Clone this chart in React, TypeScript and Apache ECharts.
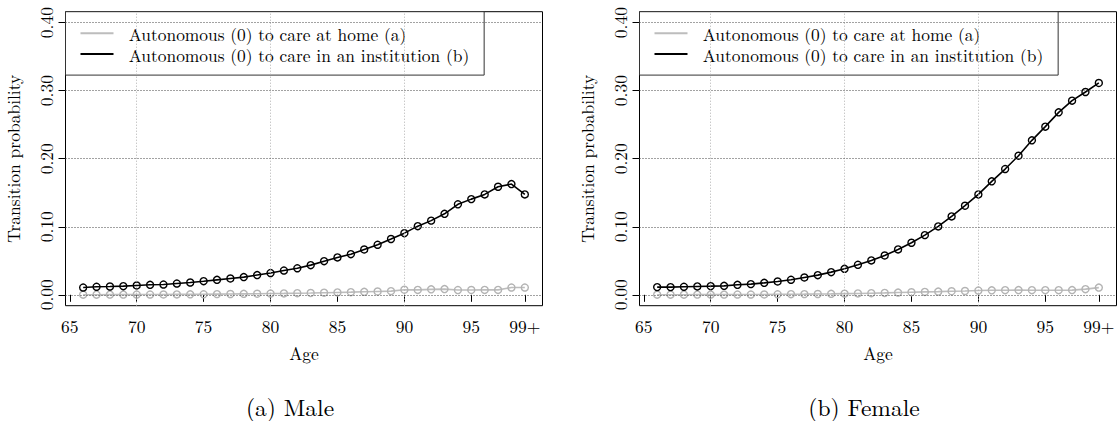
import React, { useEffect, useRef } from "react";
import * as echarts from "echarts";

// Ages 66 .. 99 (the last age class is 99 and over)
const ages = [66, 67, 68, 69, 70, 71, 72, 73, 74, 75, 76, 77, 78, 79, 80, 81, 82, 83, 84, 85, 86, 87, 88, 89, 90, 91, 92, 93, 94, 95, 96, 97, 98, 99];

// Male: autonomous -> care at home (a)
const maleHome = [0.0002, 0.0002, 0.0003, 0.0003, 0.0004, 0.0004, 0.0005, 0.0006, 0.0007, 0.0008, 0.001, 0.0012, 0.0014, 0.0016, 0.0019, 0.0021, 0.0024, 0.0027, 0.0031, 0.0035, 0.0039, 0.0044, 0.0049, 0.0054, 0.0075, 0.0072, 0.008, 0.0084, 0.007, 0.0071, 0.0072, 0.0072, 0.0107, 0.0107];
// Male: autonomous -> care in an institution (b)
const maleInst = [0.0107, 0.0118, 0.0122, 0.0127, 0.0137, 0.0147, 0.0151, 0.0166, 0.0181, 0.02, 0.022, 0.024, 0.026, 0.029, 0.032, 0.0357, 0.039, 0.0436, 0.0494, 0.0549, 0.0597, 0.0666, 0.0735, 0.082, 0.0906, 0.1009, 0.109, 0.119, 0.133, 0.1406, 0.1475, 0.1588, 0.1627, 0.1475];
// Female: autonomous -> care at home (a)
const femaleHome = [0.0002, 0.0002, 0.0002, 0.0003, 0.0003, 0.0003, 0.0004, 0.0004, 0.0005, 0.0008, 0.0009, 0.001, 0.0012, 0.0014, 0.0017, 0.002, 0.0024, 0.0028, 0.0033, 0.0038, 0.0043, 0.0047, 0.0053, 0.0056, 0.0063, 0.0066, 0.0068, 0.0069, 0.0068, 0.0068, 0.0068, 0.0069, 0.0083, 0.0106];
// Female: autonomous -> care in an institution (b)
const femaleInst = [0.0113, 0.0113, 0.0118, 0.0123, 0.0127, 0.0132, 0.0147, 0.0157, 0.0176, 0.0196, 0.0221, 0.0255, 0.0289, 0.0333, 0.0382, 0.0441, 0.0505, 0.0578, 0.0667, 0.0765, 0.0877, 0.1005, 0.1152, 0.1309, 0.1475, 0.1667, 0.1848, 0.2044, 0.227, 0.2471, 0.2681, 0.2853, 0.298, 0.3113];

const xTicks = [65, 70, 75, 80, 85, 90, 95, 99];
const yTicks = [0, 0.1, 0.2, 0.3, 0.4];
const xGridLines = [70, 80, 90];
const seriesNames = ["Autonomous (0) to care at home (a)", "Autonomous (0) to care in an institution (b)"];
const captions = ["(a) Male", "(b) Female"];

const FONT = "'Latin Modern Roman', 'Liberation Serif', 'DejaVu Serif', serif";
const GRAY = "#bdbdbd";
const BLACK = "#000000";
const TEXT_SIZE = 17.5;

const panels = [
  { home: maleHome, inst: maleInst, left: 65.5, captionX: 290 },
  { home: femaleHome, inst: femaleInst, left: 639.5, captionX: 864 },
];

const GRID_TOP = 11.7;
const GRID_W = 477;
const GRID_H = 294;

function pairs(values: number[]) {
  return ages.map((a, i) => [a, values[i]]);
}

function buildOption() {
  const grid: any[] = [];
  const xAxis: any[] = [];
  const yAxis: any[] = [];
  const series: any[] = [];
  const legend: any[] = [];
  const graphic: any[] = [];

  panels.forEach((p, i) => {
    grid.push({
      left: p.left,
      top: GRID_TOP,
      width: GRID_W,
      height: GRID_H,
      show: true,
      borderColor: "#000",
      borderWidth: 1,
      backgroundColor: "transparent",
    });

    xAxis.push({
      type: "value",
      gridIndex: i,
      min: 64.68,
      max: 100.32,
      axisLine: { show: false },
      axisTick: { show: true, customValues: xTicks, length: 7, lineStyle: { color: "#000", width: 1 } },
      axisLabel: {
        customValues: xTicks,
        formatter: (v: number) => (v === 99 ? "99+" : String(v)),
        color: "#000",
        fontFamily: FONT,
        fontSize: TEXT_SIZE,
        margin: 11,
      },
      splitLine: { show: false },
      name: "Age",
      nameLocation: "middle",
      nameGap: 38,
      nameTextStyle: { color: "#000", fontFamily: FONT, fontSize: TEXT_SIZE },
    });

    yAxis.push({
      type: "value",
      gridIndex: i,
      min: -0.016,
      max: 0.416,
      axisLine: { show: false },
      axisTick: { show: true, customValues: yTicks, length: 7, lineStyle: { color: "#000", width: 1 } },
      axisLabel: {
        customValues: yTicks,
        rotate: 90,
        formatter: (v: number) => v.toFixed(2),
        color: "#000",
        fontFamily: FONT,
        fontSize: TEXT_SIZE,
        margin: 11,
      },
      splitLine: { show: false },
      name: "Transition probability",
      nameLocation: "middle",
      nameGap: 44,
      nameTextStyle: { color: "#000", fontFamily: FONT, fontSize: TEXT_SIZE },
    });

    // dotted reference grid
    series.push({
      type: "line",
      xAxisIndex: i,
      yAxisIndex: i,
      data: pairs(p.inst),
      showSymbol: false,
      lineStyle: { opacity: 0 },
      silent: true,
      z: 1,
      markLine: {
        silent: true,
        symbol: ["none", "none"],
        label: { show: false },
        animation: false,
        data: [
          ...xGridLines.map((x) => ({ xAxis: x, lineStyle: { color: "#b0b0b0", type: [1, 2], width: 1 } })),
          ...yTicks.map((y) => ({ yAxis: y, lineStyle: { color: "#444", type: [1, 2], width: 1 } })),
        ],
      },
    });

    series.push({
      name: seriesNames[0],
      type: "line",
      xAxisIndex: i,
      yAxisIndex: i,
      data: pairs(p.home),
      symbol: "circle",
      symbolSize: 7,
      lineStyle: { color: GRAY, width: 1.6 },
      itemStyle: { color: "rgba(255,255,255,0)", borderColor: "#b3b3b3", borderWidth: 1.4 },
      z: 2,
    });

    series.push({
      name: seriesNames[1],
      type: "line",
      xAxisIndex: i,
      yAxisIndex: i,
      data: pairs(p.inst),
      symbol: "circle",
      symbolSize: 7,
      lineStyle: { color: BLACK, width: 1.6 },
      itemStyle: { color: "rgba(255,255,255,0)", borderColor: BLACK, borderWidth: 1.4 },
      z: 3,
    });

    legend.push({
      left: p.left,
      top: GRID_TOP,
      orient: "vertical",
      backgroundColor: "#fff",
      borderColor: "#333",
      borderWidth: 1,
      borderRadius: 0,
      padding: [11.3, 15, 10.7, 15],
      itemGap: 0,
      itemWidth: 33,
      itemHeight: 2,
      icon: "rect",
      selectedMode: false,
      textStyle: { color: "#000", fontFamily: FONT, fontSize: 17.4, lineHeight: 20.7, padding: [0, 0, 0, 10.3] },
      data: [
        { name: seriesNames[0], itemStyle: { color: GRAY, borderWidth: 0 } },
        { name: seriesNames[1], itemStyle: { color: BLACK, borderWidth: 0 } },
      ],
    });

    graphic.push({
      type: "text",
      x: p.captionX,
      y: 406,
      style: {
        text: captions[i],
        fill: "#000",
        font: `23.5px ${FONT}`,
        textAlign: "center",
        textVerticalAlign: "middle",
      },
    });
  });

  return {
    animation: false,
    backgroundColor: "#fff",
    grid,
    xAxis,
    yAxis,
    series,
    legend,
    graphic,
  };
}

export default function App() {
  const ref = useRef<HTMLDivElement>(null);

  useEffect(() => {
    document.body.style.margin = "0";
    if (!ref.current) return;
    const chart = echarts.init(ref.current, undefined, { renderer: "svg" });
    chart.setOption(buildOption() as any);
    return () => chart.dispose();
  }, []);

  return <div ref={ref} style={{ width: 1120, height: 421 }} />;
}
